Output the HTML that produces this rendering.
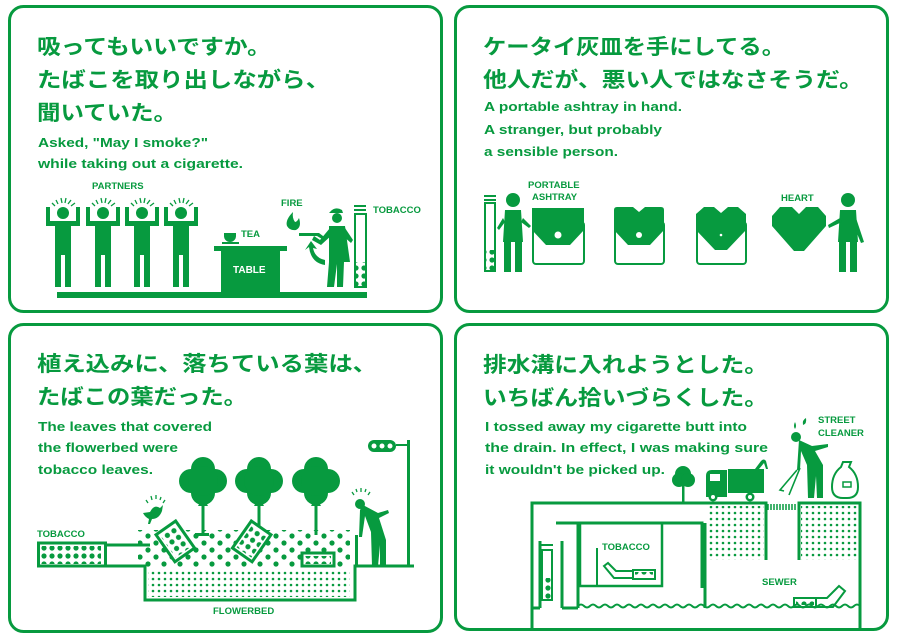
<!DOCTYPE html>
<html><head><meta charset="utf-8"><style>
html,body{margin:0;padding:0;background:#fff;}
svg{display:block;}
.jp{font-family:"Liberation Sans","Noto Sans CJK JP",sans-serif;font-weight:bold;font-size:21px;fill:#079a3f;}
.en{font-family:"Liberation Sans",sans-serif;font-weight:bold;font-size:13px;fill:#079a3f;}
.lb{font-family:"Liberation Sans",sans-serif;font-weight:bold;font-size:9.5px;fill:#079a3f;}
</style></head><body>
<svg width="899" height="638" viewBox="0 0 899 638" xmlns="http://www.w3.org/2000/svg">
<defs>
<pattern id="dots" width="6" height="6" patternUnits="userSpaceOnUse"><circle cx="3" cy="3" r="1.3" fill="#079a3f"/></pattern>
<pattern id="bigdots" width="8" height="8" patternUnits="userSpaceOnUse"><circle cx="4" cy="4" r="2.6" fill="#079a3f"/></pattern>
<pattern id="scat" width="16" height="14" patternUnits="userSpaceOnUse"><circle cx="4" cy="4" r="2.6" fill="#079a3f"/><circle cx="12" cy="11" r="2.6" fill="#079a3f"/></pattern>
<g id="partner" fill="#079a3f">
<circle cx="0" cy="-74" r="6"/>
<rect x="-8" y="-66" width="16" height="34"/>
<rect x="-8" y="-34" width="6" height="34"/>
<rect x="2" y="-34" width="6" height="34"/>
<rect x="-17" y="-66" width="34" height="5"/>
<rect x="-17" y="-80" width="4" height="19"/>
<rect x="13" y="-80" width="4" height="19"/>
<path d="M-11,-84 L-8,-81 M-7,-87 L-5,-83 M-2,-89 L-1,-84 M3,-89 L2,-84 M8,-87 L5,-83 M12,-84 L8,-81" stroke="#079a3f" stroke-width="1.3"/>
</g>
<g id="man" fill="#079a3f">
<circle cx="0" cy="-72" r="7"/>
<path d="M-8,-62 L8,-62 L10,-30 L-10,-30 Z"/>
<rect x="-9" y="-31" width="7" height="31"/>
<rect x="2" y="-31" width="7" height="31"/>
</g>
</defs>
<g fill="none" stroke="#079a3f" stroke-width="3">
<rect x="9.5" y="6.5" width="432" height="305" rx="14"/>
<rect x="455.5" y="6.5" width="432" height="305" rx="14"/>
<rect x="9.5" y="324.5" width="432" height="307" rx="14"/>
<rect x="455.5" y="324.5" width="432" height="305" rx="14"/>
</g>

<!-- Panel 1 -->
<text class="jp" x="37" y="54" textLength="234" lengthAdjust="spacingAndGlyphs">吸ってもいいですか。</text>
<text class="jp" x="37" y="87" textLength="293" lengthAdjust="spacingAndGlyphs">たばこを取り出しながら、</text>
<text class="jp" x="37" y="120" textLength="140" lengthAdjust="spacingAndGlyphs">聞いていた。</text>
<text class="en" x="38" y="147" textLength="170" lengthAdjust="spacingAndGlyphs">Asked, "May I smoke?"</text>
<text class="en" x="38" y="168" textLength="205" lengthAdjust="spacingAndGlyphs">while taking out a cigarette.</text>
<text class="lb" x="92" y="189">PARTNERS</text>
<use href="#partner" x="63" y="287"/>
<use href="#partner" x="103" y="287"/>
<use href="#partner" x="142" y="287"/>
<use href="#partner" x="181" y="287"/>
<rect x="57" y="292" width="310" height="6" fill="#079a3f"/>
<rect x="214" y="246" width="73" height="5" fill="#079a3f"/>
<rect x="221" y="250" width="59" height="43" fill="#079a3f"/>
<text x="233" y="273" font-family="Liberation Sans,sans-serif" font-weight="bold" font-size="10" fill="#fff">TABLE</text>
<path d="M224,233 h12 v3 a6,6 0 0 1 -12,0z M222,242 h17 v2 h-17z" fill="#079a3f"/>
<text class="lb" x="241" y="237">TEA</text>
<text class="lb" x="281" y="206">FIRE</text>
<path d="M293,212 q-8,8 -6,14 q3,5 9,4 q6,-3 3,-12 q-2,4 -4,4 q-3,-4 -2,-10z" fill="#079a3f"/>
<path d="M299,233 h20 l8,6 h-5 l-5,-3 h-18z" fill="#079a3f"/>
<path d="M325,265 q-14,-2 -16,-18 l-4,3 l6,-9 l6,8 l-4,-1 q2,10 12,12z" fill="#079a3f"/>
<g fill="#079a3f">
<path d="M330,212 q5,-6 12,-2 l1,3 h-14z"/>
<circle cx="337" cy="218" r="5"/>
<path d="M329,226 L345,226 L350,262 L344,262 L343,287 L337,287 L337,264 L334,287 L327,287 L329,262 Z"/>
<path d="M330,228 L320,240 L314,236 L312,240 L321,245 L333,234Z"/>
<path d="M345,228 L353,240 L351,243 L343,236Z"/>
</g>
<rect x="354" y="205" width="12" height="2" fill="#079a3f"/>
<rect x="354" y="209" width="12" height="2" fill="#079a3f"/>
<rect x="355" y="214" width="11" height="73" fill="none" stroke="#079a3f" stroke-width="2"/>
<rect x="356" y="262" width="9" height="24" fill="url(#bigdots)"/>
<text class="lb" x="373" y="213">TOBACCO</text>

<!-- Panel 2 -->
<text class="jp" x="483" y="54" textLength="302" lengthAdjust="spacingAndGlyphs">ケータイ灰皿を手にしてる。</text>
<text class="jp" x="483" y="87" textLength="380" lengthAdjust="spacingAndGlyphs">他人だが、悪い人ではなさそうだ。</text>
<text class="en" x="484" y="111" textLength="198" lengthAdjust="spacingAndGlyphs">A portable ashtray in hand.</text>
<text class="en" x="484" y="134" textLength="178" lengthAdjust="spacingAndGlyphs">A stranger, but probably</text>
<text class="en" x="484" y="156" textLength="134" lengthAdjust="spacingAndGlyphs">a sensible person.</text>
<text class="lb" x="528" y="188">PORTABLE</text>
<text class="lb" x="532" y="200">ASHTRAY</text>
<rect x="484" y="195" width="12" height="2" fill="#079a3f"/>
<rect x="484" y="199" width="12" height="2" fill="#079a3f"/>
<rect x="485" y="203" width="10" height="68" fill="none" stroke="#079a3f" stroke-width="2"/>
<rect x="486" y="250" width="8" height="20" fill="url(#bigdots)"/>
<use href="#man" x="513" y="272"/>
<path d="M503,218 L497,228 L499,230 L505,222Z M523,218 L531,226 L529,228 L521,222Z" fill="#079a3f"/>
<g fill="#079a3f">
<rect x="533" y="222" width="51" height="42" rx="3" fill="none" stroke="#079a3f" stroke-width="2"/>
<path d="M532,208 h52 v22 l-14,15 h-24 l-14,-15z"/><circle cx="558" cy="235" r="3.5" fill="#fff"/>
<rect x="615" y="222" width="49" height="42" rx="3" fill="none" stroke="#079a3f" stroke-width="2"/>
<path d="M614,210 q0,-3 3,-3 h16 l6,5 l6,-5 h16 q3,0 3,3 v20 l-14,15 h-22 l-14,-15z"/><circle cx="639" cy="235" r="3" fill="#fff"/>
<rect x="697" y="222" width="49" height="42" rx="3" fill="none" stroke="#079a3f" stroke-width="2"/>
<path d="M696,214 l8,-7 h10 l7,6 l7,-6 h10 l8,7 v16 l-19,20 h-12 l-19,-20z"/><circle cx="721" cy="235" r="1.3" fill="#fff"/>
<path d="M772,216 l8,-9 h12 l7,7 l7,-7 h12 l8,9 v10 l-22,25 h-10 l-22,-25z"/>
</g>
<text class="lb" x="781" y="201">HEART</text>
<use href="#man" x="848" y="272"/>
<path d="M840,218 L828,225 L829,228 L842,222Z M856,218 L864,242 L861,243 L853,224Z" fill="#079a3f"/>

<!-- Panel 3 -->
<text class="jp" x="37" y="371" textLength="340" lengthAdjust="spacingAndGlyphs">植え込みに、落ちている葉は、</text>
<text class="jp" x="37" y="404" textLength="210" lengthAdjust="spacingAndGlyphs">たばこの葉だった。</text>
<text class="en" x="38" y="431" textLength="174" lengthAdjust="spacingAndGlyphs">The leaves that covered</text>
<text class="en" x="38" y="452" textLength="140" lengthAdjust="spacingAndGlyphs">the flowerbed were</text>
<text class="en" x="38" y="474" textLength="115" lengthAdjust="spacingAndGlyphs">tobacco leaves.</text>
<text class="lb" x="37" y="537">TOBACCO</text>
<rect x="38.5" y="543" width="67" height="23" fill="none" stroke="#079a3f" stroke-width="3"/>
<rect x="41" y="546" width="60" height="18" fill="url(#bigdots)"/>
<path d="M106,545 H150 M106,566 H145 V600 H355 V566 H414" fill="none" stroke="#079a3f" stroke-width="3"/>
<rect x="148" y="571" width="202" height="26" fill="url(#dots)"/>
<rect x="138" y="530" width="212" height="38" fill="url(#scat)"/>
<rect x="355" y="535" width="3" height="32" fill="#079a3f"/>
<g fill="#079a3f">
<g id="tree"><circle cx="203" cy="469" r="12"/><circle cx="191" cy="481" r="12"/><circle cx="215" cy="481" r="12"/><circle cx="203" cy="493" r="12"/><circle cx="203" cy="481" r="15"/><path d="M203,497 l-5,9 h3.5 v29 h3 v-29 h3.5z"/></g>
<use href="#tree" x="56"/>
<use href="#tree" x="113"/>
<rect x="195" y="533" width="14" height="3"/>
</g>
<g fill="#fff" stroke="#079a3f" stroke-width="3">
<rect x="163" y="525" width="24" height="33" transform="rotate(-35 175 541)"/>
<rect x="240" y="525" width="24" height="33" transform="rotate(35 252 541)"/>
<rect x="302" y="553" width="32" height="13"/>
</g>
<rect x="166" y="528" width="18" height="27" fill="url(#bigdots)" transform="rotate(-35 175 541)"/>
<rect x="243" y="528" width="18" height="27" fill="url(#bigdots)" transform="rotate(35 252 541)"/>
<rect x="305" y="556" width="26" height="8" fill="url(#bigdots)"/>
<path d="M150,512 q4,-8 10,-4 l3,-3 l-1,6 q-3,8 -10,8 l-2,5 h-2 l1,-5 q-4,-2 -6,-6z" fill="#079a3f"/>
<path d="M146,500 l2,3 M151,496 l1,4 M156,495 v4 M161,497 l-1,3 M165,500 l-2,3" stroke="#079a3f" stroke-width="1.3"/>
<rect x="368" y="440" width="28" height="12" rx="6" fill="#079a3f"/>
<circle cx="374" cy="446" r="2.5" fill="#fff"/><circle cx="382" cy="446" r="2.5" fill="#fff"/><circle cx="390" cy="446" r="2.5" fill="#fff"/>
<rect x="396" y="444" width="12" height="2" fill="#079a3f"/>
<rect x="407" y="440" width="3" height="127" fill="#079a3f"/>
<g fill="#079a3f">
<circle cx="360" cy="504" r="5"/>
<path d="M363,505 L378,513 L388,510 L389,513 L379,518 L386,540 L386,566 L380,566 L380,545 L378,566 L372,566 L371,532 L365,516 L362,537 L359,537 L360,510Z"/>
</g>
<path d="M352,492 l2,3 M356,489 l1,3 M361,488 v4 M366,489 l-1,3 M370,492 l-2,3" stroke="#079a3f" stroke-width="1.3"/>
<text class="lb" x="213" y="614">FLOWERBED</text>

<!-- Panel 4 -->
<text class="jp" x="483" y="372" textLength="285" lengthAdjust="spacingAndGlyphs">排水溝に入れようとした。</text>
<text class="jp" x="483" y="405" textLength="285" lengthAdjust="spacingAndGlyphs">いちばん拾いづらくした。</text>
<text class="en" x="485" y="431" textLength="262" lengthAdjust="spacingAndGlyphs">I tossed away my cigarette butt into</text>
<text class="en" x="485" y="452" textLength="283" lengthAdjust="spacingAndGlyphs">the drain.  In effect, I was making sure</text>
<text class="en" x="485" y="474" textLength="180" lengthAdjust="spacingAndGlyphs">it wouldn't be picked up.</text>
<text class="lb" x="818" y="423">STREET</text>
<text class="lb" x="818" y="436">CLEANER</text>
<g fill="#079a3f">
<circle cx="683" cy="474" r="8"/><circle cx="679" cy="480" r="7"/><circle cx="688" cy="480" r="7"/><rect x="682" y="480" width="2.5" height="23"/>
<path d="M706,476 q0,-6 6,-6 h15 v27 h-21z M728,469 h36 v24 h-36z"/>
<rect x="710" y="474" width="10" height="7" fill="#fff"/>
<circle cx="713" cy="497" r="4.5"/><circle cx="750" cy="497" r="4.5"/>
<circle cx="713" cy="497" r="2" fill="#fff"/><circle cx="750" cy="497" r="2" fill="#fff"/>
<path d="M755,469 l6,-8 q3,-3 5,0 l2,8 h-2 l-2,-6 l-5,6z"/>
<circle cx="796" cy="437" r="5"/>
<path d="M795,422 q-2,4 0,7 q2,-3 0,-7z M806,418 q-4,2 -3,7 q4,-1 3,-7z"/>
<path d="M799,440 L812,446 L828,444 L828,447 L815,451 L823,465 L823,498 L817,498 L816,476 L814,498 L808,498 L807,465 L801,451 L800,470 L797,470 Z"/>
<path d="M797,470 L780,490 L784,491 M800,468 L789,495" stroke="#079a3f" stroke-width="1.6" fill="none"/>
<path d="M843,462 h8 l-2,5 q9,7 9,20 q0,11 -11,11 h-4 q-11,0 -11,-11 q0,-13 9,-20z" fill="none" stroke="#079a3f" stroke-width="2"/>
<rect x="843" y="482" width="8" height="5" fill="none" stroke="#079a3f" stroke-width="1.5"/>
</g>
<g fill="none" stroke="#079a3f" stroke-width="3">
<path d="M532,630 V503 H766 V560"/>
<path d="M799,560 V503 H860 V630"/>
<path d="M556,523 H702 V588 M705,523 V608"/>
<path d="M578,608 V524 M578,586"/>
<rect x="580" y="523" width="82" height="63" stroke-width="2.5"/>
<path d="M540,608 V541 M562,608 V541"/>
<path d="M532,608 H540 M562,608 H578"/>
</g>
<rect x="707" y="506" width="57" height="54" fill="url(#dots)"/>
<rect x="801" y="506" width="56" height="54" fill="url(#dots)"/>
<path d="M768,504 v6 M771,504 v6 M774,504 v6 M777,504 v6 M780,504 v6 M783,504 v6 M786,504 v6 M789,504 v6 M792,504 v6 M795,504 v6" stroke="#079a3f" stroke-width="1.5"/>
<path d="M578,606 q3,-3 6,0 t6,0 t6,0 t6,0 t6,0 t6,0 t6,0 t6,0 t6,0 t6,0 t6,0 t6,0 t6,0 t6,0 t6,0 t6,0 t6,0 t6,0 t6,0 t6,0 t6,0 t6,0 t6,0 t6,0 t6,0 t6,0 t6,0 t6,0 t6,0 t6,0 t6,0 t6,0 t6,0 t6,0 t6,0 t6,0 t6,0 t6,0 t6,0 t6,0 t6,0 t6,0 t6,0 t6,0 t6,0 t6,0 t6,0" fill="none" stroke="#079a3f" stroke-width="2"/>
<rect x="541" y="544" width="12" height="2" fill="#079a3f"/>
<rect x="542" y="550" width="10" height="50" fill="none" stroke="#079a3f" stroke-width="2"/>
<rect x="543" y="578" width="8" height="21" fill="url(#bigdots)"/>
<text class="lb" x="602" y="550">TOBACCO</text>
<path d="M597,548 V586" stroke="#079a3f" stroke-width="2"/>
<path d="M604,566 l10,12 h19 v-7 h-17 l-8,-8z" fill="none" stroke="#079a3f" stroke-width="2"/>
<rect x="633" y="570" width="22" height="9" fill="none" stroke="#079a3f" stroke-width="2"/>
<rect x="635" y="572" width="18" height="5" fill="url(#bigdots)"/>
<text class="lb" x="762" y="585">SEWER</text>
<rect x="794" y="598" width="22" height="9" fill="none" stroke="#079a3f" stroke-width="2"/>
<rect x="796" y="600" width="18" height="5" fill="url(#bigdots)"/>
<path d="M816,598 h11 l12,-12 l6,5 l-12,16 h-17" fill="none" stroke="#079a3f" stroke-width="2"/>
</svg>
</body></html>
